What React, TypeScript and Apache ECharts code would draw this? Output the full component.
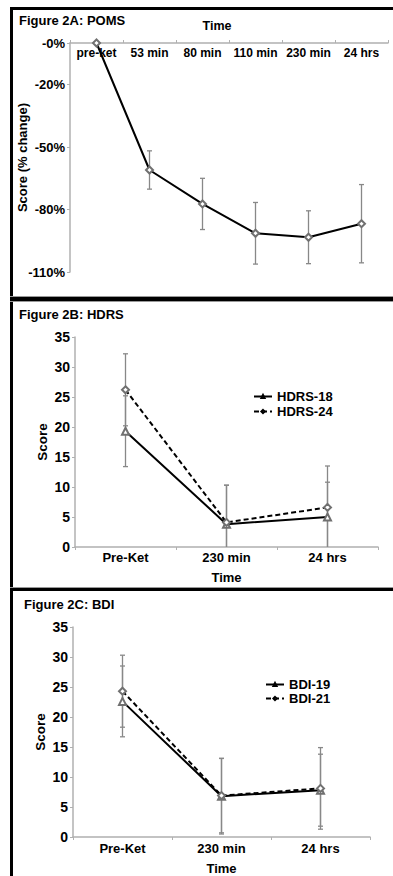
import React, { useEffect, useRef } from "react";
import * as echarts from "echarts";

// ---- Data ----
const pomsTimes = ["pre-ket", "53 min", "80 min", "110 min", "230 min", "24 hrs"];
const pomsMean = [0, -61, -77.3, -91.4, -93.3, -86.8];
const pomsErr = [0, 9.2, 12.3, 14.8, 12.7, 18.8];
const pomsTicks = [0, -20, -50, -80, -110];

const hdrsTimes = ["Pre-Ket", "230 min", "24 hrs"];
const hdrs18Mean = [19.3, 3.8, 5.0];
const hdrs18Err = [5.9, 6.5, 5.8];
const hdrs24Mean = [26.2, 4.1, 6.6];
const hdrs24Err = [6.0, 6.2, 6.9];

const bdiTimes = ["Pre-Ket", "230 min", "24 hrs"];
const bdi19Mean = [22.6, 6.8, 7.8];
const bdi19Err = [5.9, 6.3, 6.0];
const bdi21Mean = [24.3, 6.9, 8.1];
const bdi21Err = [6.0, 6.2, 6.8];

const FONT = "'Liberation Sans', Arial, sans-serif";
const AXIS_GRAY = "#b0b0b0";
const ERR_GRAY = "#888888";

function errData(mean: number[], err: number[], floor: number | null) {
  return mean
    .map((m, i) => {
      if (!err[i]) return null;
      let lo = m - err[i];
      let clipped = 0;
      if (floor !== null && lo < floor) {
        lo = floor;
        clipped = 1;
      }
      return [i, lo, m + err[i], clipped];
    })
    .filter((d) => d !== null);
}

const renderErr = (params: any, api: any) => {
  const x = api.value(0);
  const lo = api.value(1);
  const hi = api.value(2);
  const clipped = api.value(3);
  const top = api.coord([x, hi]);
  const bot = api.coord([x, lo]);
  const w = 2.5;
  const st = { stroke: ERR_GRAY, lineWidth: 1.3 };
  const children: any[] = [
    { type: "line", shape: { x1: top[0], y1: top[1], x2: bot[0], y2: bot[1] }, style: st },
    { type: "line", shape: { x1: top[0] - w, y1: top[1], x2: top[0] + w, y2: top[1] }, style: st },
  ];
  if (!clipped) {
    children.push({ type: "line", shape: { x1: bot[0] - w, y1: bot[1], x2: bot[0] + w, y2: bot[1] }, style: st });
  }
  return { type: "group", children };
};

function lineSeries(name: string, data: number[], xi: number, dashed: boolean, symbol: string) {
  return {
    name,
    type: "line",
    xAxisIndex: xi,
    yAxisIndex: xi,
    data,
    symbol,
    symbolSize: 7,
    z: 3,
    lineStyle: { color: "#000", width: 2, type: dashed ? [5, 3] : "solid" },
    itemStyle: { color: "#707070", borderWidth: 1 },
  };
}

function errSeries(name: string, data: any[], xi: number) {
  return {
    name: name + " err",
    type: "custom",
    xAxisIndex: xi,
    yAxisIndex: xi,
    data,
    renderItem: renderErr,
    z: 1,
    silent: true,
  };
}

const boldLabel = (size: number) => ({
  color: "#000",
  fontWeight: "bold" as const,
  fontSize: size,
  fontFamily: FONT,
});

export default function App() {
  const ref = useRef<HTMLDivElement>(null);
  useEffect(() => {
    if (!ref.current) return;
    const chart = echarts.init(ref.current, null, { renderer: "svg" });
    const axisLine = { show: true, lineStyle: { color: AXIS_GRAY, width: 1.5 } };
    const axisTick = { show: true, length: 3, lineStyle: { color: AXIS_GRAY } };
    const legendIcon = (name: string) => ({
      name,
      itemStyle: { color: "#000", borderWidth: 0 },
    });
    const option: any = {
      animation: false,
      backgroundColor: "#fff",
      grid: [
        { left: 70, top: 43, width: 318, height: 229 },
        { left: 75, top: 337, width: 303, height: 210 },
        { left: 73, top: 627, width: 297, height: 210 },
      ],
      xAxis: [
        {
          gridIndex: 0,
          type: "category",
          position: "top",
          data: pomsTimes,
          boundaryGap: true,
          axisLine,
          axisTick,
          axisLabel: { ...boldLabel(12), inside: true, margin: 4, verticalAlign: "top", interval: 0 },
          name: "Time",
          nameLocation: "middle",
          nameGap: 11,
          nameMoveOverlap: false,
          nameTextStyle: { ...boldLabel(12.5), padding: [0, 24, 0, 0] },
        },
        {
          gridIndex: 1,
          type: "category",
          data: hdrsTimes,
          boundaryGap: true,
          axisLine,
          axisTick,
          axisLabel: { ...boldLabel(13), margin: 4, interval: 0 },
          name: "Time",
          nameLocation: "middle",
          nameGap: 24,
          nameTextStyle: boldLabel(13),
        },
        {
          gridIndex: 2,
          type: "category",
          data: bdiTimes,
          boundaryGap: true,
          axisLine,
          axisTick,
          axisLabel: { ...boldLabel(13), margin: 5, interval: 0 },
          name: "Time",
          nameLocation: "middle",
          nameGap: 25,
          nameTextStyle: boldLabel(13),
        },
      ],
      yAxis: [
        {
          gridIndex: 0,
          type: "value",
          min: -110,
          max: 0,
          splitLine: { show: false },
          axisLine,
          axisTick: { ...axisTick, customValues: pomsTicks },
          axisLabel: {
            ...boldLabel(13),
            margin: 5,
            customValues: pomsTicks,
            formatter: (v: number) => (v === 0 ? "-0%" : v + "%"),
          },
          name: "Score (% change)",
          nameLocation: "middle",
          nameGap: 41,
          nameRotate: 90,
          nameMoveOverlap: false,
          nameTextStyle: boldLabel(13),
        },
        {
          gridIndex: 1,
          type: "value",
          min: 0,
          max: 35,
          interval: 5,
          splitLine: { show: false },
          axisLine,
          axisTick,
          axisLabel: { ...boldLabel(14), margin: 5 },
          name: "Score",
          nameLocation: "middle",
          nameGap: 26,
          nameMoveOverlap: false,
          nameTextStyle: boldLabel(13.5),
        },
        {
          gridIndex: 2,
          type: "value",
          min: 0,
          max: 35,
          interval: 5,
          splitLine: { show: false },
          axisLine,
          axisTick,
          axisLabel: { ...boldLabel(14), margin: 5 },
          name: "Score",
          nameLocation: "middle",
          nameGap: 26,
          nameMoveOverlap: false,
          nameTextStyle: boldLabel(13.5),
        },
      ],
      legend: [
        {
          data: [legendIcon("HDRS-18"), legendIcon("HDRS-24")],
          orient: "vertical",
          left: 248,
          top: 385,
          itemWidth: 18,
          itemHeight: 4,
          itemGap: 2,
          itemStyle: { color: "#000", borderWidth: 0 },
          textStyle: boldLabel(13),
          selectedMode: false,
        },
        {
          data: [legendIcon("BDI-19"), legendIcon("BDI-21")],
          orient: "vertical",
          left: 260,
          top: 673,
          itemWidth: 18,
          itemHeight: 4,
          itemGap: 1,
          itemStyle: { color: "#000", borderWidth: 0 },
          textStyle: boldLabel(13),
          selectedMode: false,
        },
      ],
      graphic: [
        { type: "rect", shape: { x: 10, y: 7, width: 383, height: 3 }, style: { fill: "#000" } },
        { type: "rect", shape: { x: 10, y: 7, width: 3, height: 869 }, style: { fill: "#000" } },
        { type: "rect", shape: { x: 10, y: 296, width: 383, height: 1 }, style: { fill: "#999" } },
        { type: "rect", shape: { x: 10, y: 297, width: 383, height: 4 }, style: { fill: "#000" } },
        { type: "rect", shape: { x: 10, y: 301, width: 383, height: 1 }, style: { fill: "#999" } },
        { type: "rect", shape: { x: 10, y: 587, width: 383, height: 1 }, style: { fill: "#999" } },
        { type: "rect", shape: { x: 10, y: 588, width: 383, height: 3 }, style: { fill: "#000" } },
        {
          type: "text",
          x: 19,
          y: 20,
          style: { text: "Figure 2A: POMS", textVerticalAlign: "middle", font: `bold 13px ${FONT}`, fill: "#000" },
        },
        {
          type: "text",
          x: 19,
          y: 314,
          style: { text: "Figure 2B: HDRS", textVerticalAlign: "middle", font: `bold 13px ${FONT}`, fill: "#000" },
        },
        {
          type: "text",
          x: 24,
          y: 604,
          style: { text: "Figure 2C: BDI", textVerticalAlign: "middle", font: `bold 13px ${FONT}`, fill: "#000" },
        },
      ],
      series: [
        errSeries("POMS", errData(pomsMean, pomsErr, null), 0),
        lineSeries("POMS", pomsMean, 0, false, "emptyDiamond"),
        errSeries("HDRS-18", errData(hdrs18Mean, hdrs18Err, 0), 1),
        errSeries("HDRS-24", errData(hdrs24Mean, hdrs24Err, 0), 1),
        lineSeries("HDRS-18", hdrs18Mean, 1, false, "emptyTriangle"),
        lineSeries("HDRS-24", hdrs24Mean, 1, true, "emptyDiamond"),
        errSeries("BDI-19", errData(bdi19Mean, bdi19Err, 0), 2),
        errSeries("BDI-21", errData(bdi21Mean, bdi21Err, 0), 2),
        lineSeries("BDI-19", bdi19Mean, 2, false, "emptyTriangle"),
        lineSeries("BDI-21", bdi21Mean, 2, true, "emptyDiamond"),
      ],
    };
    chart.setOption(option);
    return () => chart.dispose();
  }, []);
  return (
    <div
      ref={ref}
      style={{ position: "absolute", left: 0, top: 0, width: 393, height: 876, background: "#fff" }}
    />
  );
}
